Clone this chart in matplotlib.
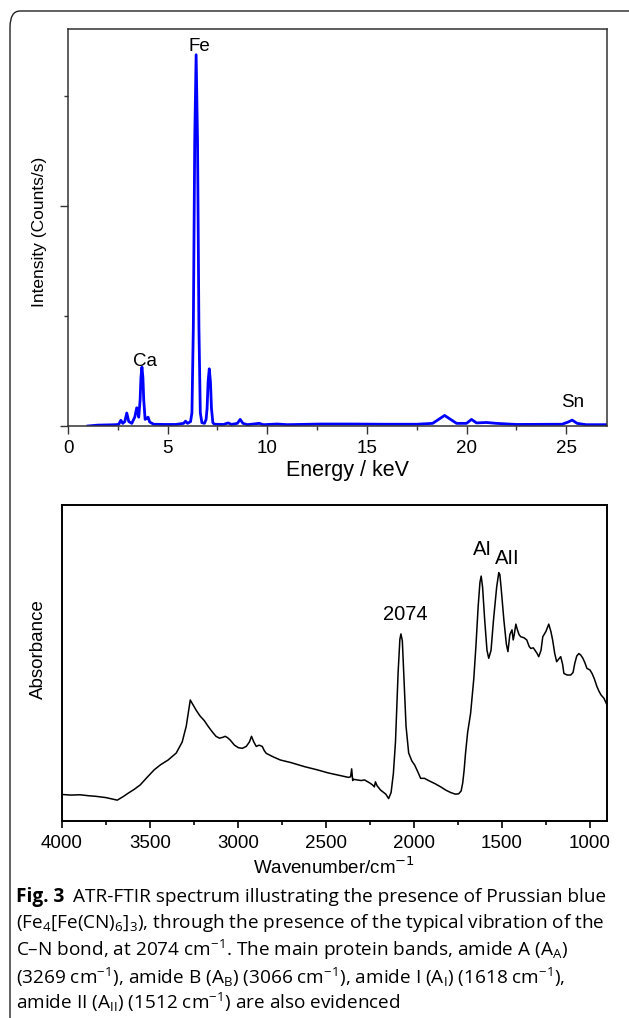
import numpy as np
import matplotlib
matplotlib.use("Agg")
import matplotlib.pyplot as plt
from matplotlib.patches import FancyBboxPatch

plt.rcParams['font.family'] = ['Liberation Sans', 'DejaVu Sans']
plt.rcParams['mathtext.fontset'] = 'custom'
plt.rcParams['mathtext.rm'] = 'Open Sans'
plt.rcParams['mathtext.it'] = 'Open Sans:italic'
plt.rcParams['mathtext.bf'] = 'Open Sans:bold'

# EDX spectrum (energy in keV, intensity in arbitrary counts/s units)
edx_energy = [1.0, 1.5, 2.0, 2.4, 2.55, 2.65, 2.75, 2.85, 2.95, 3.05, 3.2, 3.35,
              3.45, 3.55, 3.62, 3.66, 3.71, 3.76, 3.80, 3.87, 3.95, 4.02, 4.1, 4.3,
              4.8, 5.4, 5.8, 5.9, 6.0, 6.15, 6.22, 6.29, 6.36, 6.43, 6.50, 6.57,
              6.64, 6.72, 6.85, 6.93, 6.98, 7.03, 7.09, 7.15, 7.20, 7.27, 7.35, 7.8,
              8.04, 8.2, 8.5, 8.64, 8.78, 9.0, 9.6, 9.8, 10.5, 11.0, 12.7, 13.4,
              14.2, 15.9, 17.5, 18.3, 18.6, 18.9, 19.2, 19.5, 20.0, 20.25, 20.5,
              21.0, 21.5, 22.5, 24.8, 25.1, 25.3, 25.55, 26.0, 27.05]
edx_counts = [0.0, 0.004, 0.005, 0.006, 0.008, 0.026, 0.012, 0.02, 0.059, 0.02, 0.012, 0.04,
              0.083, 0.04, 0.12, 0.22, 0.268, 0.22, 0.12, 0.03, 0.035, 0.04, 0.018, 0.008,
              0.007, 0.007, 0.012, 0.022, 0.012, 0.02, 0.06, 0.45, 1.3, 1.688, 1.3, 0.45,
              0.06, 0.015, 0.012, 0.03, 0.08, 0.2, 0.26, 0.2, 0.08, 0.015, 0.008, 0.007,
              0.014, 0.007, 0.012, 0.03, 0.012, 0.006, 0.012, 0.006, 0.009, 0.006, 0.009, 0.009,
              0.009, 0.008, 0.008, 0.012, 0.03, 0.048, 0.03, 0.012, 0.012, 0.03, 0.014,
              0.016, 0.012, 0.007, 0.008, 0.018, 0.027, 0.012, 0.006, 0.006]
edx_labels = ['Fe', 'Ca', 'Sn']
edx_label_x = [6.57, 3.85, 25.32]
edx_label_y = [1.727, 0.295, 0.105]

# ATR-FTIR spectrum (wavenumber in cm-1, absorbance arbitrary)
ir_wn = [4000, 3950, 3898, 3850, 3806, 3750, 3686, 3650, 3624, 3590, 3556, 3520,
         3476, 3440, 3397, 3351, 3317, 3294, 3280, 3271, 3260, 3237, 3215, 3192,
         3170, 3146, 3125, 3105, 3085, 3073, 3060, 3044, 3020, 2998, 2975, 2953,
         2935, 2923, 2910, 2896, 2880, 2862, 2850, 2839, 2800, 2759, 2700, 2622,
         2550, 2486, 2420, 2372, 2360, 2354, 2348, 2345, 2300, 2281, 2250, 2235,
         2225, 2219, 2210, 2190, 2160, 2144, 2130, 2117, 2105, 2090, 2080, 2074,
         2066, 2058, 2045, 2030, 2012, 1996, 1980, 1962, 1940, 1917, 1880, 1848,
         1820, 1791, 1765, 1746, 1732, 1723, 1715, 1707, 1695, 1678, 1660, 1648,
         1635, 1625, 1618, 1610, 1598, 1585, 1575, 1562, 1548, 1530, 1518, 1512,
         1505, 1489, 1475, 1466, 1455, 1443, 1436, 1430, 1421, 1412, 1403, 1393,
         1375, 1359, 1345, 1336, 1322, 1313, 1300, 1291, 1278, 1268, 1250, 1234,
         1222, 1212, 1200, 1189, 1178, 1166, 1155, 1148, 1130, 1109, 1096, 1086,
         1075, 1063, 1052, 1040, 1028, 1017, 1000, 988, 975, 960, 948, 937, 920, 903]
ir_abs = [0.084, 0.082, 0.083, 0.080, 0.078, 0.074, 0.066, 0.078, 0.088, 0.100, 0.114, 0.136,
          0.162, 0.178, 0.193, 0.215, 0.250, 0.300, 0.350, 0.383, 0.372, 0.350, 0.332, 0.318,
          0.300, 0.282, 0.268, 0.262, 0.265, 0.268, 0.264, 0.256, 0.240, 0.232, 0.230, 0.236,
          0.250, 0.268, 0.250, 0.236, 0.240, 0.236, 0.222, 0.214, 0.203, 0.193, 0.185, 0.172,
          0.162, 0.152, 0.144, 0.138, 0.140, 0.165, 0.128, 0.132, 0.128, 0.130, 0.120, 0.114,
          0.108, 0.124, 0.112, 0.098, 0.085, 0.071, 0.090, 0.150, 0.250, 0.470, 0.575, 0.592,
          0.570, 0.470, 0.300, 0.215, 0.190, 0.177, 0.158, 0.135, 0.135, 0.128, 0.118, 0.108,
          0.098, 0.090, 0.085, 0.086, 0.095, 0.120, 0.160, 0.214, 0.280, 0.341, 0.450, 0.552,
          0.680, 0.755, 0.775, 0.740, 0.636, 0.540, 0.515, 0.540, 0.636, 0.740, 0.786, 0.780,
          0.740, 0.636, 0.560, 0.536, 0.590, 0.605, 0.573, 0.590, 0.623, 0.605, 0.590, 0.583,
          0.580, 0.573, 0.552, 0.546, 0.548, 0.541, 0.530, 0.520, 0.540, 0.583, 0.600, 0.623,
          0.600, 0.573, 0.530, 0.504, 0.512, 0.520, 0.495, 0.467, 0.462, 0.462, 0.470, 0.499,
          0.522, 0.530, 0.525, 0.515, 0.500, 0.483, 0.478, 0.467, 0.450, 0.425, 0.410, 0.399, 0.388, 0.367]
ir_labels = ['2074', 'AI', 'AII']
ir_label_x = [2051, 1608, 1472]
ir_label_y = [0.655, 0.858, 0.832]

W, H = 629, 1018
fig = plt.figure(figsize=(W / 100, H / 100), dpi=100)

# rounded frame around the figure + caption
frame = FancyBboxPatch((10 / W, -20 / H), 650 / W, (H - 11 + 20) / H,
                       boxstyle="round,pad=0,rounding_size=0.016",
                       transform=fig.transFigure, fill=False,
                       edgecolor='#222222', linewidth=1.0)
fig.patches.append(frame)

# --- top panel: EDX ---
ax1 = fig.add_axes([68 / W, 1 - 426 / H, 539 / W, 397 / H])
ax1.plot(edx_energy, edx_counts, color='#0000ff', linewidth=2.0)
ax1.set_xlim(0, 27.05)
ax1.set_ylim(0, 1.805)
ax1.set_xticks([0, 5, 10, 15, 20, 25])
ax1.set_xticks(np.arange(2.5, 27, 5), minor=True)
ax1.set_yticks([0, 1])
ax1.set_yticks([0.5, 1.5], minor=True)
ax1.set_yticklabels([])
ax1.tick_params(axis='both', which='major', direction='out', length=6, width=1.0,
                labelsize=13.5, color='#333333')
ax1.tick_params(axis='both', which='minor', direction='out', length=3, width=1.0,
                color='#333333')
ax1.tick_params(axis='x', pad=4)
for s in ax1.spines.values():
    s.set_linewidth(1.1)
    s.set_color('#333333')
ax1.set_xlabel('Energy / keV', fontsize=15.5)
ax1.xaxis.set_label_coords(0.518, -0.085)
ax1.set_ylabel('Intensity (Counts/s)', fontsize=12.5)
ax1.yaxis.set_label_coords(-0.039, 0.49)
for lab, x, y in zip(edx_labels, edx_label_x, edx_label_y):
    ax1.text(x, y, lab, fontsize=13.5, ha='center', va='center')

# --- bottom panel: ATR-FTIR ---
ax2 = fig.add_axes([62 / W, 1 - 821 / H, 545 / W, 316 / H])
ax2.plot(ir_wn, ir_abs, color='black', linewidth=1.1)
ax2.set_xlim(4000, 903)
ax2.set_ylim(0, 1)
ax2.set_xticks([4000, 3500, 3000, 2500, 2000, 1500, 1000])
ax2.set_xticks(np.arange(3750, 900, -500), minor=True)
ax2.set_yticks([])
ax2.tick_params(axis='x', which='major', direction='out', length=5, width=1.2,
                labelsize=13.5, pad=5)
ax2.tick_params(axis='x', which='minor', direction='out', length=3, width=1.2)
for s in ax2.spines.values():
    s.set_linewidth(1.4)
ax2.set_xlabel('Wavenumber/cm$^{-1}$', fontsize=13.5, labelpad=3,
               math_fontfamily='dejavusans')
ax2.set_ylabel('Absorbance', fontsize=13.5)
ax2.yaxis.set_label_coords(-0.028, 0.544)
for lab, x, y in zip(ir_labels, ir_label_x, ir_label_y):
    ax2.text(x, y, lab, fontsize=14.5, ha='center', va='center')

# --- caption ---
cap_size = 13.7
cap_font = 'Open Sans'
x0 = 16 / W
line_y = [897, 923, 950, 977, 1002]
fig_bold = fig.text(x0, 1 - line_y[0] / H, 'Fig. 3', fontsize=cap_size, family=cap_font,
                    fontweight='bold', va='center')
fig.canvas.draw()
bb = fig_bold.get_window_extent()
fig.text((bb.x1 + 9) / W, 1 - line_y[0] / H,
         'ATR-FTIR spectrum illustrating the presence of Prussian blue',
         fontsize=cap_size, family=cap_font, va='center')
cap_lines = [
    '(Fe$_4$[Fe(CN)$_6$]$_3$), through the presence of the typical vibration of the',
    'C\u2013N bond, at 2074 cm$^{-1}$. The main protein bands, amide A (A$_\\mathrm{A}$)',
    '(3269 cm$^{-1}$), amide B (A$_\\mathrm{B}$) (3066 cm$^{-1}$), amide I (A$_\\mathrm{I}$) (1618 cm$^{-1}$),',
    'amide II (A$_\\mathrm{II}$) (1512 cm$^{-1}$) are also evidenced',
]
for txt, y in zip(cap_lines, line_y[1:]):
    fig.text(x0, 1 - y / H, txt, fontsize=cap_size, family=cap_font, va='center')

fig.savefig('out.png', dpi=100)
